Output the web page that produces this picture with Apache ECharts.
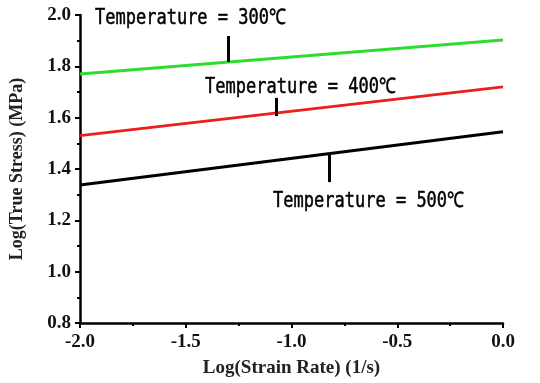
<!DOCTYPE html>
<html>
<head>
<meta charset="utf-8">
<script src="https://cdn.jsdelivr.net/npm/echarts@6/dist/echarts.min.js"></script>
<style>
html,body{margin:0;padding:0;background:#fff;}
#c{width:540px;height:383px;}
</style>
</head>
<body>
<div id="c"></div>
<script>
// Data
var xValues = [-2.0, 0.0];
var t300 = [1.770, 1.903];
var t400 = [1.530, 1.720];
var t500 = [1.338, 1.545];
var seriesNames = ['Temperature = 300℃', 'Temperature = 400℃', 'Temperature = 500℃'];
var yTicks = [0.8, 1.0, 1.2, 1.4, 1.6, 1.8, 2.0];
var xTicks = [-2.0, -1.5, -1.0, -0.5, 0.0];
// annotation leader lines [x, yBottom, yTop]
var leader300 = [-1.30, 1.817, 1.918];
var leader400 = [-1.07, 1.606, 1.677];
var leader500 = [-0.82, 1.349, 1.459];
// label anchors [x(left), y(center)]
var label300 = [-1.929, 1.988];
var label400 = [-1.409, 1.719];
var label500 = [-1.087, 1.275];

function pairs(ys){ return xValues.map(function(x,i){ return [x, ys[i]]; }); }
function leaderLine(l){
  return {
    silent: true, symbol: ['none','none'], label:{show:false},
    lineStyle:{color:'#000', width:3, type:'solid'},
    data: [[{coord:[l[0], l[1]]},{coord:[l[0], l[2]]}]]
  };
}
var serif = '"Liberation Serif", "Times New Roman", serif';

var chart = echarts.init(document.getElementById('c'), null, {renderer:'canvas'});
chart.setOption({
  animation: false,
  backgroundColor: '#fff',
  grid: {left: 80, right: 37, top: 15, bottom: 60, containLabel: false},
  xAxis: {
    type: 'value', min: xTicks[0], max: xTicks[xTicks.length-1], interval: 0.5,
    name: 'Log(Strain Rate) (1/s)', nameLocation: 'middle', nameGap: 36,
    nameTextStyle: {fontFamily: serif, fontWeight: 'bold', fontSize: 19, color: '#222'},
    axisLine: {onZero:false, lineStyle: {color: '#000', width: 2.5}},
    axisTick: {show:true, inside:false, length: 5, lineStyle:{color:'#000', width:2}},
    minorTick: {show:true, splitNumber:2, length:3, lineStyle:{color:'#000', width:2}},
    axisLabel: {fontFamily: serif, fontWeight:'bold', fontSize: 19, color:'#111', margin: 10,
      formatter: function(v){ return v.toFixed(1); }},
    splitLine: {show:false}
  },
  yAxis: {
    type: 'value', min: yTicks[0], max: yTicks[yTicks.length-1], interval: 0.2,
    name: 'Log(True Stress) (MPa)', nameLocation: 'middle', nameGap: 54,
    nameTextStyle: {fontFamily: serif, fontWeight: 'bold', fontSize: 18, color: '#222'},
    axisLine: {show:true, onZero:false, lineStyle: {color: '#000', width: 2.5}},
    axisTick: {show:true, inside:false, length: 5, lineStyle:{color:'#000', width:2}},
    minorTick: {show:true, splitNumber:2, length:3, lineStyle:{color:'#000', width:2}},
    axisLabel: {fontFamily: serif, fontWeight:'bold', fontSize: 19, color:'#111', margin: 9,
      formatter: function(v){ return v.toFixed(1); }},
    splitLine: {show:false}
  },
  series: [
    {name: seriesNames[0], type:'line', data: pairs(t300), symbol:'none',
     lineStyle:{color:'#2edc2e', width:3}, markLine: leaderLine(leader300)},
    {name: seriesNames[1], type:'line', data: pairs(t400), symbol:'none',
     lineStyle:{color:'#ec1e1e', width:3}, markLine: leaderLine(leader400)},
    {name: seriesNames[2], type:'line', data: pairs(t500), symbol:'none',
     lineStyle:{color:'#000', width:3}, markLine: leaderLine(leader500)}
  ]
});

var anchors = [label300, label400, label500];
var graphics = anchors.map(function(a, i){
  var p = chart.convertToPixel({gridIndex:0}, a);
  return {
    type:'text', x: p[0], y: p[1], scaleY: 1.25, silent:true,
    style: {text: seriesNames[i], font: '17px "DejaVu Sans Mono", monospace',
      fill:'#000', textAlign:'left', textVerticalAlign:'middle',
      stroke:'#000', lineWidth:0.4}
  };
});
chart.setOption({graphic: graphics});
</script>
</body>
</html>
